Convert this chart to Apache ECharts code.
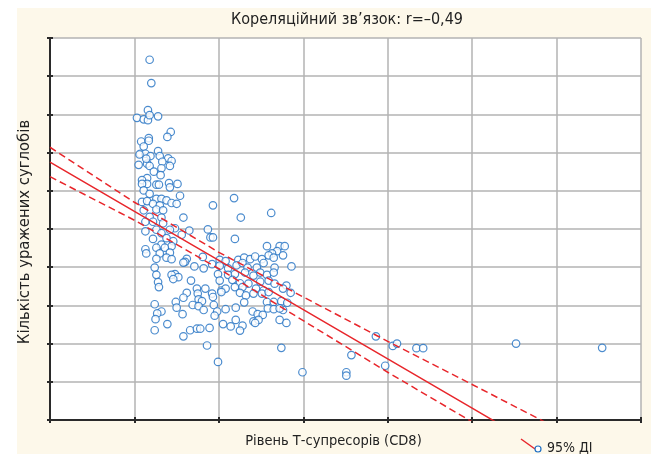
<!DOCTYPE html>
<html>
<head>
<meta charset="utf-8">
<script src="https://cdn.jsdelivr.net/npm/echarts@6/dist/echarts.min.js"></script>
<style>
  html, body { margin: 0; padding: 0; background: #fff; }
  #chart { width: 660px; height: 454px; }
</style>
</head>
<body>
<div id="chart"></div>
<script>
// рівень CD8 (умовні одиниці сітки) і кількість уражених суглобів
const cd8Level = [
  1.18, 1.20, 1.16, 1.03, 1.11, 1.16, 1.18, 1.28, 1.43, 1.39, 1.17, 1.08, 1.17, 1.11, 1.28, 1.07,
  1.13, 1.19, 1.30, 1.40, 1.44, 1.05, 1.15, 1.18, 1.33, 1.42, 1.32, 1.23, 1.31, 1.15, 1.14, 1.06,
  1.09, 1.15, 1.09, 1.26, 1.29, 1.41, 1.51, 1.42, 1.11, 1.18, 1.54, 1.26, 1.32, 1.38, 1.09, 1.15,
  1.22, 1.44, 1.50, 1.30, 1.93, 2.18, 1.26, 1.34, 1.11, 1.18, 1.32, 1.58, 2.26, 2.62, 1.13, 1.22,
  1.34, 1.48, 1.65, 1.87, 1.13, 1.26, 1.42, 1.32, 1.56, 1.90, 1.93, 2.19, 1.22, 1.38, 1.46, 1.32,
  1.44, 1.26, 1.36, 2.57, 2.72, 2.78, 1.13, 1.14, 1.30, 1.42, 2.69, 2.63, 2.76, 1.26, 1.38, 1.44,
  1.62, 1.60, 1.81, 2.01, 2.08, 2.23, 2.30, 2.37, 2.43, 2.51, 2.59, 2.65, 1.24, 1.58, 1.71, 1.82,
  1.92, 2.01, 2.11, 2.21, 2.28, 2.34, 2.45, 2.53, 2.66, 2.86, 1.26, 1.48, 1.44, 1.52, 1.46, 1.99,
  2.11, 2.19, 2.31, 2.41, 2.49, 2.57, 2.65, 1.28, 1.67, 2.01, 2.16, 2.25, 2.35, 2.49, 2.59, 2.66,
  2.80, 1.29, 1.74, 1.84, 2.03, 2.08, 2.19, 2.28, 2.44, 2.53, 2.76, 1.62, 1.75, 1.92, 2.03, 2.25,
  2.32, 2.41, 2.51, 2.59, 2.85, 1.58, 1.76, 1.80, 1.93, 2.30, 2.57, 2.65, 2.74, 1.49, 1.24, 1.69,
  1.76, 1.94, 2.08, 2.20, 2.58, 2.65, 2.76, 1.50, 1.82, 1.98, 1.32, 1.27, 1.57, 2.40, 2.46, 2.52,
  1.95, 1.25, 2.20, 2.41, 2.47, 2.72, 1.39, 2.05, 2.14, 2.28, 2.43, 2.80, 1.24, 1.66, 1.74, 1.78,
  1.89, 2.25, 1.58, 1.86, 2.74, 2.81, 2.72, 3.86, 4.06, 4.11, 4.34, 4.42, 5.52, 6.54, 3.57, 2.99,
  3.51, 3.51, 3.97, 1.99
]
const jointCount = [
  9.43, 8.82, 8.11, 7.91, 7.87, 7.85, 7.98, 7.95, 7.54, 7.41, 7.38, 7.29, 7.31, 7.16, 7.04, 6.97,
  6.97, 6.91, 6.91, 6.85, 6.78, 6.68, 6.71, 6.65, 6.76, 6.65, 6.59, 6.50, 6.41, 6.33, 6.84, 6.95,
  6.28, 6.18, 6.18, 6.16, 6.16, 6.20, 6.18, 6.09, 6.01, 5.92, 5.87, 5.79, 5.79, 5.75, 5.71, 5.73,
  5.66, 5.68, 5.66, 5.62, 5.62, 5.81, 5.51, 5.49, 5.49, 5.32, 5.30, 5.30, 5.30, 5.42, 5.19, 5.19,
  5.15, 5.02, 4.96, 4.99, 4.94, 4.98, 4.98, 4.89, 4.85, 4.78, 4.78, 4.74, 4.74, 4.76, 4.68, 4.59,
  4.55, 4.51, 4.51, 4.55, 4.55, 4.55, 4.47, 4.36, 4.36, 4.38, 4.42, 4.36, 4.31, 4.22, 4.25, 4.21,
  4.22, 4.14, 4.27, 4.19, 4.16, 4.19, 4.25, 4.21, 4.28, 4.21, 4.31, 4.25, 3.99, 4.12, 4.02, 3.97,
  4.08, 4.04, 3.97, 4.05, 4.11, 3.99, 3.99, 4.11, 3.99, 4.02, 3.80, 3.82, 3.80, 3.74, 3.69, 3.82,
  3.80, 3.82, 3.86, 3.78, 3.86, 3.80, 3.86, 3.61, 3.65, 3.65, 3.67, 3.58, 3.57, 3.62, 3.65, 3.57,
  3.52, 3.48, 3.44, 3.44, 3.39, 3.44, 3.48, 3.48, 3.44, 3.39, 3.44, 3.33, 3.31, 3.31, 3.35, 3.33,
  3.26, 3.31, 3.31, 3.35, 3.33, 3.20, 3.16, 3.11, 3.22, 3.08, 3.09, 3.09, 3.11, 3.09, 3.03, 3.01,
  2.98, 3.01, 2.90, 2.94, 2.92, 2.90, 2.88, 2.94, 2.88, 2.84, 2.84, 2.79, 2.77, 2.84, 2.77, 2.75,
  2.73, 2.64, 2.62, 2.58, 2.62, 2.62, 2.51, 2.51, 2.45, 2.47, 2.54, 2.54, 2.35, 2.35, 2.39, 2.39,
  2.41, 2.34, 2.19, 1.95, 1.89, 3.07, 2.92, 2.19, 1.94, 2.00, 1.88, 1.88, 2.00, 1.89, 1.70, 1.25,
  1.25, 1.16, 1.42, 1.52
]
// лінія регресії та межі 95% ДІ
const fitX = [0, 1, 2, 3, 4, 5, 6]
const fitY = [6.75, 5.46, 4.18, 2.89, 1.60, 0.31, -0.98]
const upperY = [7.14, 5.70, 4.39, 3.22, 2.06, 0.93, -0.21]
const lowerY = [6.37, 5.23, 3.96, 2.60, 1.25, -0.05, -1.40]

const font = "'Liberation Sans Narrow', 'DejaVu Sans Condensed', sans-serif"
const red = '#e8262b'
const blue = '#1f6fc2'

let points = cd8Level.map((x, i) => [x, jointCount[i]])
let toPairs = ys => fitX.map((x, i) => [x, ys[i]])

let chart = echarts.init(document.getElementById('chart'))

let frameAxis = {
  min: 0,
  axisLabel: { show: false },
  axisLine: { show: true, lineStyle: { color: '#2a2a2a', width: 2 } },
  axisTick: { show: true, inside: true, length: 3, lineStyle: { color: '#2a2a2a', width: 2 } }
}

chart.setOption({
  backgroundColor: '#fff',
  animation: false,
  title: {
    text: 'Кореляційний зв’язок: r=–0,49',
    left: 342,
    textAlign: 'center',
    top: 7,
    textStyle: { fontFamily: font, fontSize: 16, fontWeight: 'normal', color: '#222' }
  },
  grid: {
    left: 50, top: 38, right: 19, bottom: 27,
    show: true, backgroundColor: '#fff', borderWidth: 0
  },
  graphic: [
    { type: 'rect', z: -10, shape: { x: 17, y: 8, width: 634, height: 446 }, style: { fill: '#fdf8ea' } },
    { type: 'line', z: 10, shape: { x1: 521, y1: 439, x2: 535, y2: 449 }, style: { stroke: red, lineWidth: 1.5 } },
    { type: 'circle', z: 11, shape: { cx: 538, cy: 449, r: 3 }, style: { fill: '#fff', stroke: blue, lineWidth: 1.2 } },
    { type: 'text', z: 11, style: { x: 547, y: 448, text: '95% ДІ', font: '14px ' + font, fill: '#222', textVerticalAlign: 'middle' } }
  ],
  xAxis: [
    Object.assign({}, frameAxis, {
      type: 'value', max: 7, interval: 1, position: 'bottom',
      name: 'Рівень Т-супресорів (CD8)', nameLocation: 'middle', nameGap: 14,
      nameTextStyle: { fontFamily: font, fontSize: 14.5, color: '#222', padding: [0, 24, 0, 0] },
      splitLine: { show: true, lineStyle: { color: '#b3b3b3', width: 1.5 } }
    }),
    Object.assign({}, frameAxis, {
      type: 'value', max: 7, interval: 1, position: 'top',
      splitLine: { show: false }
    })
  ],
  yAxis: [
    Object.assign({}, frameAxis, {
      type: 'value', max: 10, interval: 1, position: 'left',
      name: 'Кількість уражених суглобів', nameLocation: 'middle', nameGap: 17,
      nameTextStyle: { fontFamily: font, fontSize: 16.5, color: '#222', padding: [0, 6, 0, 0] },
      splitLine: { show: true, lineStyle: { color: '#b3b3b3', width: 1.5 } }
    }),
    Object.assign({}, frameAxis, {
      type: 'value', max: 10, interval: 1, position: 'right',
      splitLine: { show: false }
    })
  ],
  series: [
    {
      type: 'scatter',
      data: points,
      symbol: 'circle',
      symbolSize: 7.5,
      itemStyle: { color: '#fff', borderColor: blue, borderWidth: 1.2 },
      z: 2
    },
    {
      type: 'line', data: toPairs(fitY), showSymbol: false, clip: true, z: 3,
      lineStyle: { color: red, width: 1.5 }
    },
    {
      type: 'line', data: toPairs(upperY), showSymbol: false, clip: true, z: 3,
      lineStyle: { color: red, width: 1.5, type: [7, 4] }
    },
    {
      type: 'line', data: toPairs(lowerY), showSymbol: false, clip: true, z: 3,
      lineStyle: { color: red, width: 1.5, type: [7, 4] }
    }
  ]
})
</script>
</body>
</html>
